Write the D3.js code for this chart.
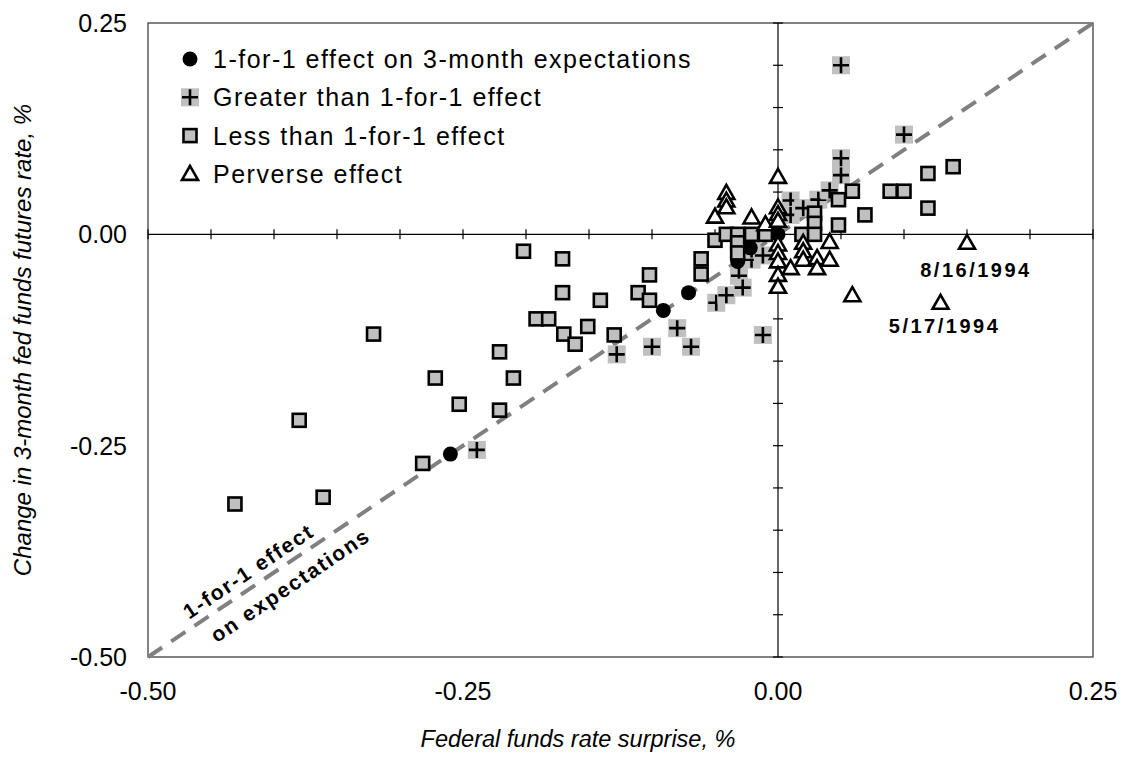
<!DOCTYPE html>
<html><head><meta charset="utf-8">
<script src="https://cdn.jsdelivr.net/npm/d3@7/dist/d3.min.js"></script>
<style>html,body{margin:0;padding:0;background:#fff;}svg{display:block;font-family:"Liberation Sans",Arial,sans-serif;}</style>
</head><body>
<svg id="c" width="1126" height="761"></svg>
<script>
// ---- data ----
const oneForOne = [[-0.26,-0.26],[-0.091,-0.09],[-0.071,-0.069],[-0.032,-0.032],[-0.022,-0.016],[0.0,0.0]];
const greater = [[-0.239,-0.255],[-0.128,-0.142],[-0.100,-0.133],[-0.080,-0.111],[-0.069,-0.133],[-0.049,-0.081],[-0.041,-0.072],[-0.031,-0.049],[-0.028,-0.063],[-0.021,-0.030],[-0.021,-0.018],[-0.012,-0.025],[-0.012,-0.119],[0.010,0.040],[0.010,0.023],[0.020,0.031],[0.032,0.041],[0.041,0.052],[0.050,0.070],[0.050,0.090],[0.050,0.200],[0.100,0.118]];
const less = [[-0.431,-0.319],[-0.361,-0.311],[-0.380,-0.220],[-0.321,-0.118],[-0.282,-0.271],[-0.272,-0.170],[-0.253,-0.201],[-0.221,-0.139],[-0.221,-0.208],[-0.210,-0.170],[-0.202,-0.020],[-0.192,-0.100],[-0.182,-0.100],[-0.171,-0.029],[-0.171,-0.069],[-0.170,-0.118],[-0.161,-0.130],[-0.151,-0.109],[-0.141,-0.078],[-0.130,-0.119],[-0.111,-0.069],[-0.102,-0.048],[-0.102,-0.078],[-0.061,-0.029],[-0.061,-0.047],[-0.050,-0.007],[-0.041,0.000],[-0.032,0.000],[-0.032,-0.010],[-0.032,-0.022],[-0.021,0.000],[-0.010,0.000],[0.019,0.000],[0.029,0.025],[0.029,0.013],[0.029,0.000],[0.048,0.041],[0.048,0.011],[0.059,0.051],[0.069,0.023],[0.089,0.051],[0.100,0.051],[0.119,0.072],[0.119,0.031],[0.139,0.080]];
const perverse = [[-0.050,0.021],[-0.041,0.049],[-0.041,0.040],[-0.041,0.032],[-0.021,0.020],[-0.010,0.012],[0.000,0.068],[0.000,0.032],[0.000,0.024],[0.000,0.016],[0.000,-0.012],[0.000,-0.022],[0.000,-0.032],[0.000,-0.048],[0.000,-0.062],[0.010,-0.040],[0.020,-0.010],[0.020,-0.020],[0.020,-0.030],[0.031,-0.028],[0.031,-0.040],[0.041,-0.009],[0.041,-0.030],[0.059,-0.072],[0.150,-0.010],[0.129,-0.081]];
const dateLabels = [{text:"8/16/1994", at:[0.150,-0.010], dx:9, dy:34},{text:"5/17/1994", at:[0.129,-0.081], dx:4, dy:30}];
const tickLabels = [-0.50,-0.25,0.00,0.25];
const legendLabels = ["1-for-1 effect on 3-month expectations","Greater than 1-for-1 effect","Less than 1-for-1 effect","Perverse effect"];

// ---- chart ----
const svg = d3.select("#c");
const x = d3.scaleLinear().domain([-0.5,0.25]).range([148,1093]);
const y = d3.scaleLinear().domain([-0.5,0.25]).range([657,23]);
const GRAY = "#c0c0c0";

svg.append("rect").attr("x",x(-0.5)).attr("y",y(0.25)).attr("width",x(0.25)-x(-0.5)).attr("height",y(-0.5)-y(0.25))
  .attr("fill","none").attr("stroke","#404040").attr("stroke-width",1.3);

// center axes with crossing ticks
const minorTicks = d3.range(-0.5,0.2501,0.05);
const ax = svg.append("g").attr("stroke","#000").attr("stroke-width",1.2);
ax.append("line").attr("x1",x(-0.5)).attr("x2",x(0.25)).attr("y1",y(0)).attr("y2",y(0));
ax.append("line").attr("x1",x(0)).attr("x2",x(0)).attr("y1",y(-0.5)).attr("y2",y(0.25));
ax.selectAll(".tx").data(minorTicks).join("line").attr("x1",d=>x(d)).attr("x2",d=>x(d)).attr("y1",y(0)-5).attr("y2",y(0)+5);
ax.selectAll(".ty").data(minorTicks).join("line").attr("y1",d=>y(d)).attr("y2",d=>y(d)).attr("x1",x(0)-5).attr("x2",x(0)+5);

// tick labels
svg.selectAll(".xl").data(tickLabels).join("text").attr("x",d=>x(d)).attr("y",700).attr("text-anchor","middle")
  .attr("font-size",25).text(d=>d.toFixed(2));
svg.selectAll(".yl").data(tickLabels).join("text").attr("x",127).attr("y",d=>y(d)+9).attr("text-anchor","end")
  .attr("font-size",25).text(d=>d.toFixed(2));

// axis titles
svg.append("text").attr("x",578).attr("y",747).attr("text-anchor","middle").attr("font-size",23.5).attr("font-style","italic")
  .text("Federal funds rate surprise, %");
svg.append("text").attr("transform","translate(31,"+((y(0.25)+y(-0.5))/2)+") rotate(-90)").attr("text-anchor","middle")
  .attr("font-size",24).attr("font-style","italic").text("Change in 3-month fed funds futures rate, %");

// 1-for-1 dashed line
svg.append("line").attr("x1",x(-0.5)).attr("y1",y(-0.5)).attr("x2",x(0.25)).attr("y2",y(0.25))
  .attr("stroke","#808080").attr("stroke-width",4).attr("stroke-dasharray","17,11");

// line label
const ang = Math.atan2(y(0.25)-y(-0.5), x(0.25)-x(-0.5))*180/Math.PI;
const lt = svg.append("text").attr("transform",`translate(${x(-0.4135)},${y(-0.4135)}) rotate(${ang})`)
  .attr("font-size",21).attr("font-weight","bold").attr("letter-spacing",1.8).attr("text-anchor","middle");
lt.append("tspan").attr("x",0).attr("y",-8).text("1-for-1 effect");
lt.append("tspan").attr("x",27).attr("y",27).text("on expectations");

// marker drawers
function plus(g){ g.append("rect").attr("x",-9).attr("y",-9).attr("width",18).attr("height",18).attr("fill",GRAY);
  g.append("path").attr("d","M-8,0H8M0,-8V8").attr("stroke","#000").attr("stroke-width",2.6); }
function square(g){ g.append("rect").attr("x",-6.5).attr("y",-6.5).attr("width",13).attr("height",13).attr("fill",GRAY).attr("stroke","#000").attr("stroke-width",2.6); }
function tri(g){ g.append("path").attr("d","M0,-8L8,6H-8Z").attr("fill","#fff").attr("stroke","#000").attr("stroke-width",2.6).attr("stroke-linejoin","miter"); }
function dot(g){ g.append("circle").attr("r",7.5).attr("fill","#000"); }

function series(data, fn){
  svg.append("g").selectAll("g").data(data).join("g").attr("transform",d=>`translate(${x(d[0])},${y(d[1])})`).each(function(){fn(d3.select(this));});
}
series(greater, plus);
series(oneForOne, dot);
series(less, square);
series(perverse, tri);

// date labels
svg.selectAll(".dl").data(dateLabels).join("text").attr("x",d=>x(d.at[0])+d.dx).attr("y",d=>y(d.at[1])+d.dy)
  .attr("text-anchor","middle").attr("font-size",20).attr("font-weight","bold").attr("letter-spacing",2.5).text(d=>d.text);

// legend
const fns=[dot,plus,square,tri];
const leg = svg.append("g");
legendLabels.forEach((t,i)=>{
  const yy = 59 + i*38.3;
  const g = leg.append("g").attr("transform",`translate(190,${yy})`); fns[i](g);
  leg.append("text").attr("x",213).attr("y",yy+9).attr("font-size",25).attr("letter-spacing",1.5).text(t);
});
</script>
</body></html>
